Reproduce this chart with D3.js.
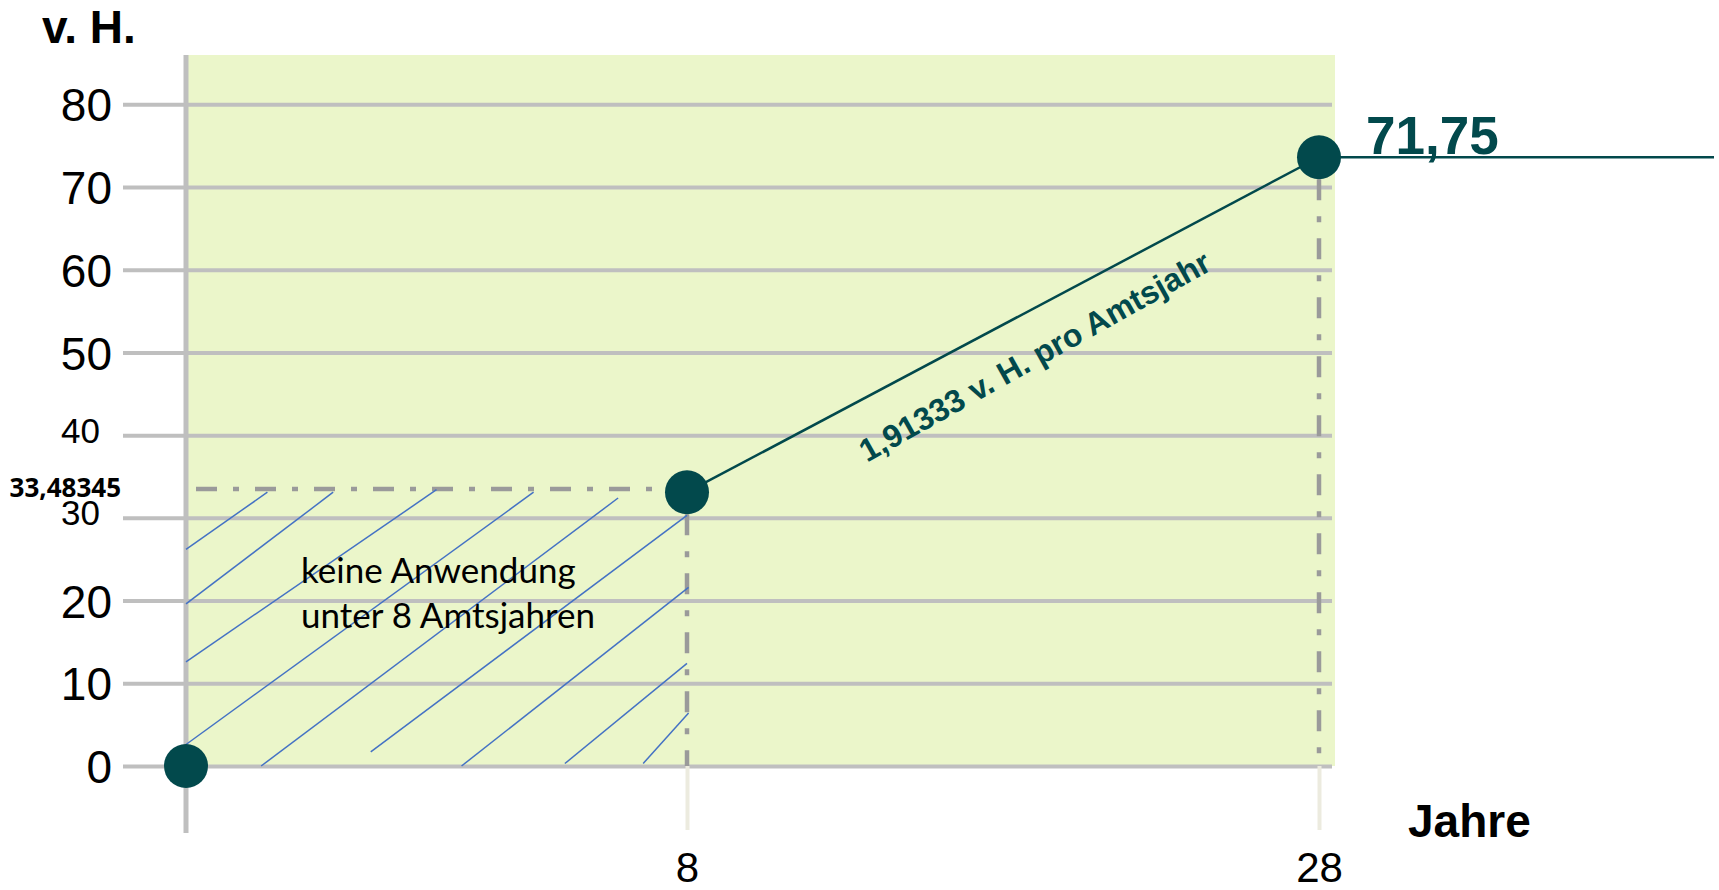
<!DOCTYPE html>
<html>
<head>
<meta charset="utf-8">
<script src="https://cdn.jsdelivr.net/npm/d3@7"></script>
<style>
html,body{margin:0;padding:0;background:#fff;}
svg{display:block;}
</style>
</head>
<body>
<script>
// ---------- data ----------
const yTicks = [0, 10, 20, 30, 40, 50, 60, 70, 80];
const xTicks = [8, 28];
const years = [0, 8, 28];
const pointValues = [0, 33.1, 73.6];
const thresholdValue = 33.48345;
const thresholdLabel = "33,48345";
const endLabel = "71,75";
const slopeLabel = "1,91333 v. H. pro Amtsjahr";
const yAxisTitle = "v. H.";
const xAxisTitle = "Jahre";
const noteLines = ["keine Anwendung", "unter 8 Amtsjahren"];
// hatch segments in data units [year, v.H.]
const hatchStart = [[0, 26.2], [0, 19.6], [0, 12.6], [0, 2.6], [1.2, 0], [2.95, 1.7], [4.4, 0], [6.05, 0.3], [7.3, 0.3]];
const hatchEnd   = [[1.3, 33.1], [2.35, 33.1], [4.0, 33.4], [5.55, 33.1], [6.9, 32.4], [8.0, 30.3], [8.05, 21.6], [8.0, 12.4], [8.05, 6.4]];

// ---------- layout ----------
const W = 1719, H = 890;
const teal = "#02494c";
const gridColor = "#bfbfbf";
const dashColor = "#9a9a9a";

const x = d3.scaleLinear().domain([0, 8, 28]).range([186, 687, 1319]);
const y = d3.scaleLinear().domain([0, 80]).range([766, 104.3]);

const svg = d3.select("body").append("svg").attr("width", W).attr("height", H);

const plotLeft = 188, plotRight = 1335, plotTop = 55;
const gridLeft = 123, gridRight = 1332;

// green background
svg.append("rect")
  .attr("x", plotLeft).attr("y", plotTop)
  .attr("width", plotRight - plotLeft).attr("height", y(0) - plotTop)
  .attr("fill", "#ebf6ca");

// y axis with gridlines
const yAxis = d3.axisLeft(y).tickValues(yTicks)
  .tickSize(gridRight - gridLeft).tickPadding(12)
  .tickFormat(d3.format("d"));
const gy = svg.append("g").attr("transform", `translate(${gridRight},0)`).call(yAxis);
gy.select(".domain").remove();
gy.selectAll(".tick line").attr("stroke", gridColor).attr("stroke-width", 4);
gy.selectAll(".tick text")
  .attr("font-family", "'Liberation Sans', Arial, sans-serif")
  .attr("fill", "#000")
  .attr("font-size", d => (d === 30 || d === 40) ? 35 : 46)
  .attr("x", d => (d === 30 || d === 40) ? -(gridRight - 100) : -(gridRight - 112))
  .attr("dy", d => (d === 30 || d === 40) ? "0.2em" : "0.36em");

// x axis ticks (beige) + labels
const xAxis = d3.axisBottom(x).tickValues(xTicks).tickSize(64).tickPadding(22).tickFormat(d3.format("d"));
const gx = svg.append("g").attr("transform", `translate(0,${y(0)})`).call(xAxis);
gx.select(".domain").remove();
gx.selectAll(".tick line").attr("stroke", "#ecebdf").attr("stroke-width", 4);
gx.selectAll(".tick text")
  .attr("font-family", "'Liberation Sans', Arial, sans-serif")
  .attr("font-size", 42).attr("fill", "#000");

// y axis vertical line
svg.append("line")
  .attr("x1", x(0)).attr("x2", x(0))
  .attr("y1", plotTop).attr("y2", y(0) + 67)
  .attr("stroke", gridColor).attr("stroke-width", 5);

// dash-dot reference lines
const dashPattern = "21,16,6,16";
svg.append("line")
  .attr("x1", x(0) + 10).attr("x2", x(8) - 20)
  .attr("y1", y(thresholdValue)).attr("y2", y(thresholdValue))
  .attr("stroke", dashColor).attr("stroke-width", 4.5).attr("stroke-dasharray", dashPattern);
[1, 2].forEach(i => {
  svg.append("line")
    .attr("x1", x(years[i])).attr("x2", x(years[i]))
    .attr("y1", y(pointValues[i]) + 22).attr("y2", y(0))
    .attr("stroke", dashColor).attr("stroke-width", 4.5).attr("stroke-dasharray", dashPattern);
});

// hatching
svg.append("g").selectAll("line").data(hatchStart).join("line")
  .attr("x1", d => x(d[0])).attr("y1", d => y(d[1]))
  .attr("x2", (d, i) => x(hatchEnd[i][0])).attr("y2", (d, i) => y(hatchEnd[i][1]))
  .attr("stroke", "#4472c4").attr("stroke-width", 1.5);

// note text
const note = svg.append("text")
  .attr("font-family", "Lato, 'Open Sans', sans-serif")
  .attr("font-size", 35).attr("fill", "#000");
noteLines.forEach((t, i) => {
  note.append("tspan").attr("x", 301).attr("y", 583 + i * 45).text(t);
});

// threshold label
svg.append("text")
  .attr("x", 121).attr("y", y(thresholdValue) + 8)
  .attr("text-anchor", "end")
  .attr("font-family", "'Open Sans', 'Noto Sans', sans-serif")
  .attr("font-weight", 700).attr("font-size", 26).attr("fill", "#000")
  .text(thresholdLabel);

// axis titles
svg.append("text").attr("x", 42).attr("y", 43)
  .attr("font-family", "'Liberation Sans', Arial, sans-serif")
  .attr("font-weight", "bold").attr("font-size", 46).attr("fill", "#000")
  .text(yAxisTitle);
svg.append("text").attr("x", 1408).attr("y", 837)
  .attr("font-family", "'Liberation Sans', Arial, sans-serif")
  .attr("font-weight", "bold").attr("font-size", 46).attr("fill", "#000")
  .text(xAxisTitle);

// main line
const pts = years.map((yr, i) => [x(yr), y(pointValues[i])]);
svg.append("path")
  .attr("d", d3.line()([pts[1], pts[2]]))
  .attr("fill", "none").attr("stroke", teal).attr("stroke-width", 2.5);
svg.append("line")
  .attr("x1", pts[2][0]).attr("x2", 1714)
  .attr("y1", pts[2][1]).attr("y2", pts[2][1])
  .attr("stroke", teal).attr("stroke-width", 2.5);

// points
svg.append("g").selectAll("circle").data(pts).join("circle")
  .attr("cx", d => d[0]).attr("cy", d => d[1]).attr("r", 22)
  .attr("fill", teal);

// end label
svg.append("text").attr("x", 1366).attr("y", pts[2][1] - 3)
  .attr("font-family", "'Liberation Sans', Arial, sans-serif")
  .attr("font-weight", "bold").attr("font-size", 53).attr("fill", teal)
  .text(endLabel);

// slope label
const ang = Math.atan2(pts[1][1] - pts[2][1], pts[2][0] - pts[1][0]) * 180 / Math.PI;
svg.append("text")
  .attr("transform", `translate(1040,366) rotate(${-(ang + 1.3)})`)
  .attr("text-anchor", "middle")
  .attr("font-family", "'Liberation Sans', Arial, sans-serif")
  .attr("font-weight", "bold").attr("font-size", 32).attr("fill", teal)
  .text(slopeLabel);
</script>
</body>
</html>
